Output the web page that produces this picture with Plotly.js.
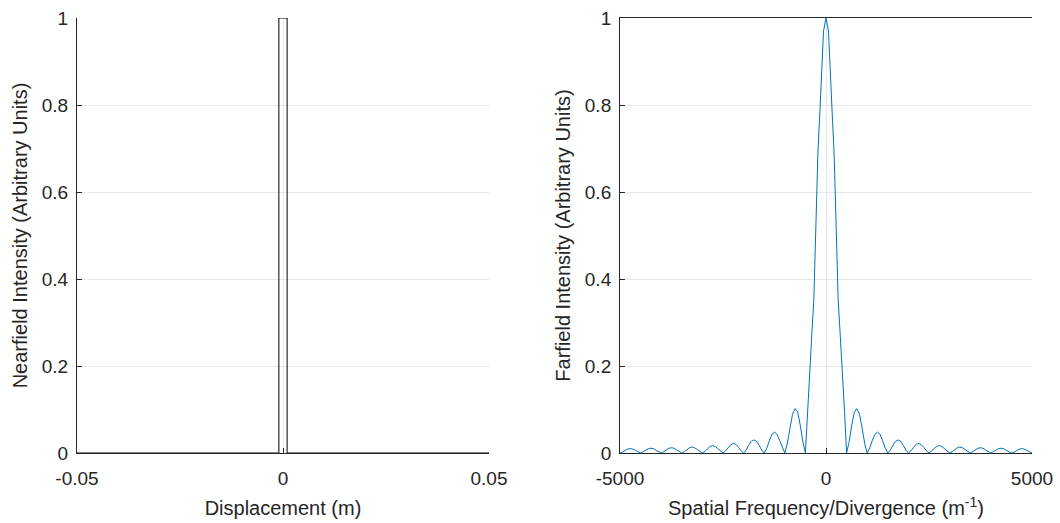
<!DOCTYPE html>
<html>
<head>
<meta charset="utf-8">
<script src="https://cdn.plot.ly/plotly-3.0.1.min.js"></script>
<style>html,body{margin:0;padding:0;background:#fff;}#chart{width:1060px;height:523px;}</style>
</head>
<body>
<div id="chart"></div>
<script>
// Nearfield: slit aperture (displacement in m, intensity)
var nearX = [-0.05, -0.001, -0.001, 0.001, 0.001, 0.05];
var nearY = [0, 0, 1, 1, 0, 0];

// Farfield: spatial frequency (1/m) and intensity
var farX = [
  -5000,-4937.5,-4875,-4812.5,-4750,-4687.5,-4625,-4562.5,
  -4500,-4437.5,-4375,-4312.5,-4250,-4187.5,-4125,-4062.5,
  -4000,-3937.5,-3875,-3812.5,-3750,-3687.5,-3625,-3562.5,
  -3500,-3437.5,-3375,-3312.5,-3250,-3187.5,-3125,-3062.5,
  -3000,-2937.5,-2875,-2812.5,-2750,-2687.5,-2625,-2562.5,
  -2500,-2437.5,-2375,-2312.5,-2250,-2187.5,-2125,-2062.5,
  -2000,-1937.5,-1875,-1812.5,-1750,-1687.5,-1625,-1562.5,
  -1500,-1437.5,-1375,-1312.5,-1250,-1187.5,-1125,-1062.5,
  -1000,-937.5,-875,-812.5,-750,-687.5,-625,-562.5,
  -500,-450,-393,-340,-296,-250,-198,-141,-60,0,60,141,198,250,296,340,393,450,
  500,562.5,625,687.5,750,812.5,875,937.5,
  1000,1062.5,1125,1187.5,1250,1312.5,1375,1437.5,
  1500,1562.5,1625,1687.5,1750,1812.5,1875,1937.5,
  2000,2062.5,2125,2187.5,2250,2312.5,2375,2437.5,
  2500,2562.5,2625,2687.5,2750,2812.5,2875,2937.5,
  3000,3062.5,3125,3187.5,3250,3312.5,3375,3437.5,
  3500,3562.5,3625,3687.5,3750,3812.5,3875,3937.5,
  4000,4062.5,4125,4187.5,4250,4312.5,4375,4437.5,
  4500,4562.5,4625,4687.5,4750,4812.5,4875,4937.5,
  5000
];
var farY = [
  0,0.002,0.006,0.009,0.010,0.009,0.006,0.002,
  0,0.003,0.006,0.010,0.011,0.010,0.006,0.003,
  0,0.003,0.007,0.011,0.012,0.011,0.007,0.003,
  0,0.003,0.008,0.012,0.014,0.012,0.008,0.003,
  0,0.004,0.010,0.015,0.017,0.015,0.010,0.004,
  0,0.005,0.013,0.019,0.022,0.020,0.013,0.005,
  0,0.007,0.018,0.027,0.030,0.027,0.018,0.007,
  0,0.011,0.028,0.043,0.048,0.043,0.029,0.012,
  0,0.023,0.058,0.089,0.102,0.094,0.064,0.026,
  0,0.095,0.2,0.28,0.35,0.51,0.685,0.8,0.97,1,0.97,0.8,0.685,0.51,0.35,0.28,0.2,0.095,
  0,0.026,0.064,0.094,0.102,0.089,0.058,0.023,
  0,0.012,0.029,0.043,0.048,0.043,0.028,0.011,
  0,0.007,0.018,0.027,0.030,0.027,0.018,0.007,
  0,0.005,0.013,0.020,0.022,0.019,0.013,0.005,
  0,0.004,0.010,0.015,0.017,0.015,0.010,0.004,
  0,0.003,0.008,0.012,0.014,0.012,0.008,0.003,
  0,0.003,0.007,0.011,0.012,0.011,0.007,0.003,
  0,0.003,0.006,0.010,0.011,0.010,0.006,0.003,
  0,0.002,0.006,0.009,0.010,0.009,0.006,0.002,
  0
];

var yTicks = [0, 0.2, 0.4, 0.6, 0.8, 1];
var yTickText = ['0', '0.2', '0.4', '0.6', '0.8', '1'];
var nearTicks = [-0.05, 0, 0.05];
var nearTickText = ['-0.05', '0', '0.05'];
var farTicks = [-5000, 0, 5000];
var farTickText = ['-5000', '0', '5000'];

var FONT = 'Liberation Sans, Arial, Helvetica, sans-serif';
var AX = '#262626';
var GRID = '#e8e8e8';

var traces = [
  {x: nearX, y: nearY, xaxis: 'x', yaxis: 'y', type: 'scatter', mode: 'lines',
   line: {color: '#000000', width: 1}, hoverinfo: 'skip'},
  {x: farX, y: farY, xaxis: 'x2', yaxis: 'y2', type: 'scatter', mode: 'lines',
   line: {color: '#0072BD', width: 1}, hoverinfo: 'skip'}
];

function xax(dom, rng, tv, tt, title, mirror) {
  return {domain: dom, range: rng, tickvals: tv, ticktext: tt, showgrid: true, gridcolor: GRID,
    zeroline: false, showline: true, linecolor: AX, linewidth: 1, mirror: mirror,
    ticks: 'inside', ticklen: 5, tickcolor: AX, tickfont: {family: FONT, size: 19, color: AX},
    ticklabelstandoff: 8,
    title: {text: title, font: {family: FONT, size: 20, color: AX}, standoff: 13}};
}
function yax(anchor, title) {
  return {domain: [0, 1], range: [0, 1], anchor: anchor, tickvals: yTicks, ticktext: yTickText,
    showgrid: true, gridcolor: GRID, zeroline: false, showline: true, linecolor: AX, linewidth: 1,
    ticks: 'inside', ticklen: 5, tickcolor: AX, tickfont: {family: FONT, size: 19, color: AX},
    ticklabelstandoff: 4,
    title: {text: title, font: {family: FONT, size: 20, color: AX}, standoff: 8}};
}

var layout = {
  width: 1060, height: 523,
  margin: {l: 77, r: 28, t: 18, b: 70},
  paper_bgcolor: '#ffffff', plot_bgcolor: '#ffffff',
  showlegend: false,
  xaxis: xax([0, 0.43141], [-0.05, 0.05], nearTicks, nearTickText, 'Displacement (m)', false),
  yaxis: yax('x', 'Nearfield Intensity (Arbitrary Units)'),
  xaxis2: Object.assign(xax([0.56859, 1], [-5000, 5000], farTicks, farTickText,
           'Spatial Frequency/Divergence (m<sup>-1</sup>)', true), {anchor: 'y2'}),
  yaxis2: yax('x2', 'Farfield Intensity (Arbitrary Units)')
};
layout.xaxis.anchor = 'y';

Plotly.newPlot('chart', traces, layout, {displayModeBar: false, staticPlot: true});
</script>
</body>
</html>
